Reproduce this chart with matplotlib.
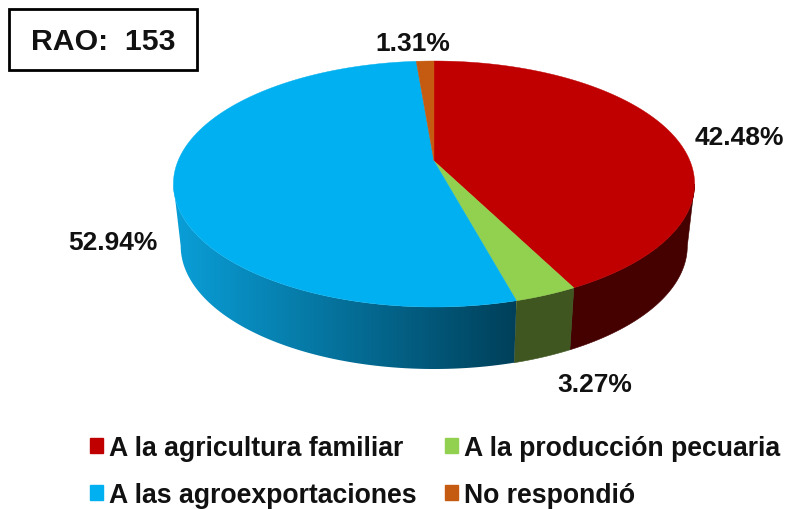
import numpy as np
import matplotlib
matplotlib.use("Agg")
import matplotlib.pyplot as plt
from matplotlib.patches import Patch, Rectangle, Polygon
from matplotlib.colors import LinearSegmentedColormap

categorias = ["A la agricultura familiar", "A la producción pecuaria",
              "A las agroexportaciones", "No respondió"]
valores = [42.48, 3.27, 52.94, 1.31]
etiquetas = ["42.48%", "3.27%", "52.94%", "1.31%"]
colores = ["#c00000", "#92d050", "#00b0f0", "#c55a11"]
pared = ["#450000", "#3f5620", None, "#6a3008"]

plt.rcParams["font.family"] = ["Liberation Sans", "DejaVu Sans"]

# eje en pixeles de la imagen
fig = plt.figure(figsize=(7.88, 5.10), dpi=100)
ax = fig.add_axes([0, 0, 1, 1])
ax.set_xlim(0, 788)
ax.set_ylim(510, 0)
ax.axis("off")

# proyeccion del disco: perspectiva simple
CX, CY = 434, 162
A, B, K = 256, 118.7, 0.187
ALTO, ESC = 62, 0.972


def arriba(t):
    u, v = np.sin(t), np.cos(t)
    w = 1 + K * v
    return CX + A * u / w, CY - B * v / w


def abajo(t):
    x, y = arriba(t)
    return CX + ESC * (x - CX), y + ALTO


bordes = np.cumsum([0] + valores) / 100 * 2 * np.pi
degradado = LinearSegmentedColormap.from_list("azul", ["#0a9fd8", "#00405a"])

# solo se ve la pared entre los dos puntos mas anchos del disco
t_der = np.arccos(-K)
t_izq = 2 * np.pi - t_der

for i in range(len(valores)):
    t0, t1 = max(bordes[i], t_der), min(bordes[i + 1], t_izq)
    if t1 <= t0:
        continue
    ts = np.linspace(t0, t1, 200)
    xa, ya = arriba(ts)
    xb, yb = abajo(ts[::-1])
    px, py = np.r_[xa, xb], np.r_[ya, yb]
    if pared[i]:
        ax.fill(px, py, color=pared[i], lw=0.4, zorder=1)
    else:
        poly = Polygon(np.c_[px, py], closed=True, fc="none", ec="none", transform=ax.transData)
        ax.add_patch(poly)
        im = ax.imshow(np.linspace(0, 1, 256)[None, :], cmap=degradado, aspect="auto",
                       extent=[173, 516, 400, 100], zorder=1, interpolation="bilinear")
        im.set_clip_path(poly)
ax.set_xlim(0, 788)
ax.set_ylim(510, 0)

# tapa
for i in range(len(valores)):
    ts = np.linspace(bordes[i], bordes[i + 1], 200)
    x, y = arriba(ts)
    ax.fill(np.r_[CX, x], np.r_[CY, y], color=colores[i], lw=0.3, zorder=2)

# etiquetas
pos = [(739, 138), (595, 385), (113, 243), (413, 44)]
for e, (px, py) in zip(etiquetas, pos):
    ax.text(px, py, e, ha="center", va="center", fontsize=19, fontweight="bold", color="#111111", zorder=3)

ax.add_patch(Rectangle((9, 10), 188, 61, fc="white", ec="black", lw=2, zorder=3))
ax.text(103, 42, "RAO:  153", ha="center", va="center", fontsize=21.8, fontweight="bold", color="#111111", zorder=4)

handles = [Patch(color=colores[0], label=categorias[0]),
           Patch(color=colores[2], label=categorias[2]),
           Patch(color=colores[1], label=categorias[1]),
           Patch(color=colores[3], label=categorias[3])]
leg = ax.legend(handles=handles, ncol=2, frameon=False, loc="lower left",
                bbox_to_anchor=(90 / 788, 1 / 510), prop={"size": 19.2, "weight": "bold"},
                handlelength=0.5, handleheight=0.5, handletextpad=0.2,
                labelspacing=0.78, columnspacing=1.08, borderpad=0, borderaxespad=0)
for t in leg.get_texts():
    t.set_color("#111111")

fig.savefig("out.png", dpi=100)
